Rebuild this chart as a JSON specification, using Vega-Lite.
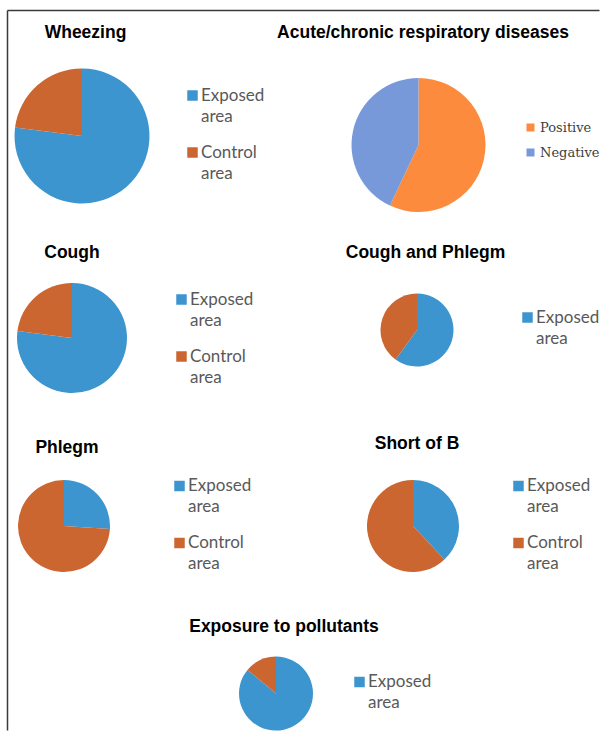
{
  "$schema": "https://vega.github.io/schema/vega-lite/v6.json",
  "background": "white",
  "padding": {"left": 6, "top": 9, "right": 0, "bottom": 0},
  "columns": 2,
  "align": "each",
  "bounds": "flush",
  "spacing": 0,
  "config": {
    "view": {"stroke": null},
    "title": {"font": "Liberation Sans", "fontSize": 17.5, "fontWeight": "bold", "color": "#000000", "anchor": "middle", "frame": "group", "baseline": "alphabetic"},
    "legend": {"symbolType": "square", "symbolStrokeWidth": 0, "symbolOpacity": 1, "labelFont": "Lato", "labelFontSize": 17, "labelColor": "#595959", "symbolSize": 110, "rowPadding": 18, "labelOffset": 0, "padding": 0, "labelLimit": 300},
    "style": {"guide-label": {"lineHeight": 21}}
  },
  "concat": [
    {
      "width": 1,
      "height": 1,
      "data": {"values": []},
      "mark": "point"
    },
    {
      "width": 592,
      "height": 1,
      "data": {"values": []},
      "mark": "point",
      "encoding": {
        "x": {"field": "fx", "type": "quantitative", "scale": {"domain": [0, 1]}, "axis": {"orient": "bottom", "domainColor": "#3a3a3a", "domainWidth": 1.5, "ticks": false, "labels": false, "grid": false, "title": null}}
      }
    },
    {
      "width": 1,
      "height": 720,
      "data": {"values": []},
      "mark": "point",
      "encoding": {
        "y": {"field": "fy", "type": "quantitative", "scale": {"domain": [0, 1]}, "axis": {"orient": "right", "domainColor": "#3a3a3a", "domainWidth": 1.5, "ticks": false, "labels": false, "grid": false, "title": null}}
      }
    },
    {
      "columns": 2,
      "align": "each",
      "bounds": "flush",
      "spacing": {"row": 0, "column": 83},
      "resolve": {"scale": {"color": "independent", "theta": "independent"}, "legend": {"color": "independent"}},
      "concat": [
        {
          "width": 150, "height": 252,
          "title": {"text": "Wheezing", "dx": 3.5, "offset": -31},
          "data": {"values": [{"group": "Exposed area", "value": 77}, {"group": "Control area", "value": 23}]},
          "mark": {"type": "arc", "radius": 67.5},
          "encoding": {
            "theta": {"field": "value", "type": "quantitative", "stack": true},
            "order": {"field": "group", "sort": "descending"},
            "color": {"field": "group", "type": "nominal", "scale": {"domain": ["Exposed area", "Control area"], "range": ["#3C95CF", "#CC6631"]},
              "legend": {"title": null, "orient": "none", "legendX": 177, "legendY": 77, "labelExpr": "split(datum.label, ' ')"}}
          }
        },
        {
          "width": 357, "height": 270,
          "title": {"text": "Acute/chronic respiratory diseases", "dx": 4.5, "offset": -31},
          "data": {"values": [{"group": "Positive", "value": 57}, {"group": "Negative", "value": 43}]},
          "mark": {"type": "arc", "radius": 67},
          "encoding": {
            "theta": {"field": "value", "type": "quantitative", "stack": true},
            "order": {"field": "group", "sort": "descending"},
            "color": {"field": "group", "type": "nominal", "scale": {"domain": ["Positive", "Negative"], "range": ["#FC8B3D", "#7799DA"]},
              "legend": {"title": null, "orient": "none", "legendX": 284, "legendY": 111, "labelFont": "DejaVu Serif", "labelFontSize": 13, "labelColor": "#404040", "symbolSize": 64, "rowPadding": 11, "labelOffset": 3}}
          }
        },
        {
          "width": 130, "height": 116,
          "title": {"text": "Cough", "dx": 0, "offset": 19},
          "data": {"values": [{"group": "Exposed area", "value": 77}, {"group": "Control area", "value": 23}]},
          "mark": {"type": "arc", "radius": 55},
          "encoding": {
            "theta": {"field": "value", "type": "quantitative", "stack": true},
            "order": {"field": "group", "sort": "descending"},
            "color": {"field": "group", "type": "nominal", "scale": {"domain": ["Exposed area", "Control area"], "range": ["#3C95CF", "#CC6631"]},
              "legend": {"title": null, "orient": "none", "legendX": 166, "legendY": 11, "labelExpr": "split(datum.label, ' ')"}}
          }
        },
        {
          "width": 354, "height": 100,
          "title": {"text": "Cough and Phlegm", "dx": 8.5, "offset": 19},
          "data": {"values": [{"group": "Exposed area", "value": 60}, {"group": "Control area", "value": 40}]},
          "mark": {"type": "arc", "radius": 36.5},
          "encoding": {
            "theta": {"field": "value", "type": "quantitative", "stack": true},
            "order": {"field": "group", "sort": "descending"},
            "color": {"field": "group", "type": "nominal", "scale": {"domain": ["Exposed area", "Control area"], "range": ["#3C95CF", "#CC6631"]},
              "legend": {"title": null, "orient": "none", "legendX": 279, "legendY": 29, "values": ["Exposed area"], "labelExpr": "split(datum.label, ' ')"}}
          }
        },
        {
          "width": 114, "height": 260,
          "title": {"text": "Phlegm", "dx": 3, "offset": -60},
          "data": {"values": [{"group": "Exposed area", "value": 26}, {"group": "Control area", "value": 74}]},
          "mark": {"type": "arc", "radius": 46},
          "encoding": {
            "theta": {"field": "value", "type": "quantitative", "stack": true},
            "order": {"field": "group", "sort": "descending"},
            "color": {"field": "group", "type": "nominal", "scale": {"domain": ["Exposed area", "Control area"], "range": ["#3C95CF", "#CC6631"]},
              "legend": {"title": null, "orient": "none", "legendX": 164, "legendY": 81.5, "labelExpr": "split(datum.label, ' ')"}}
          }
        },
        {
          "width": 346, "height": 260,
          "title": {"text": "Short of B", "dx": 4, "offset": -56},
          "data": {"values": [{"group": "Exposed area", "value": 38}, {"group": "Control area", "value": 62}]},
          "mark": {"type": "arc", "radius": 46},
          "encoding": {
            "theta": {"field": "value", "type": "quantitative", "stack": true},
            "order": {"field": "group", "sort": "descending"},
            "color": {"field": "group", "type": "nominal", "scale": {"domain": ["Exposed area", "Control area"], "range": ["#3C95CF", "#CC6631"]},
              "legend": {"title": null, "orient": "none", "legendX": 270, "legendY": 81.5, "labelExpr": "split(datum.label, ' ')"}}
          }
        },
        {
          "width": 10, "height": 10,
          "data": {"values": []},
          "mark": "point"
        },
        {
          "width": 72, "height": 75,
          "title": {"text": "Exposure to pollutants", "dx": 8, "offset": 21},
          "data": {"values": [{"group": "Exposed area", "value": 86}, {"group": "Control area", "value": 14}]},
          "mark": {"type": "arc", "radius": 37},
          "encoding": {
            "theta": {"field": "value", "type": "quantitative", "stack": true},
            "order": {"field": "group", "sort": "descending"},
            "color": {"field": "group", "type": "nominal", "scale": {"domain": ["Exposed area", "Control area"], "range": ["#3C95CF", "#CC6631"]},
              "legend": {"title": null, "orient": "none", "legendX": 111, "legendY": 17.5, "values": ["Exposed area"], "labelExpr": "split(datum.label, ' ')"}}
          }
        }
      ]
    }
  ]
}
